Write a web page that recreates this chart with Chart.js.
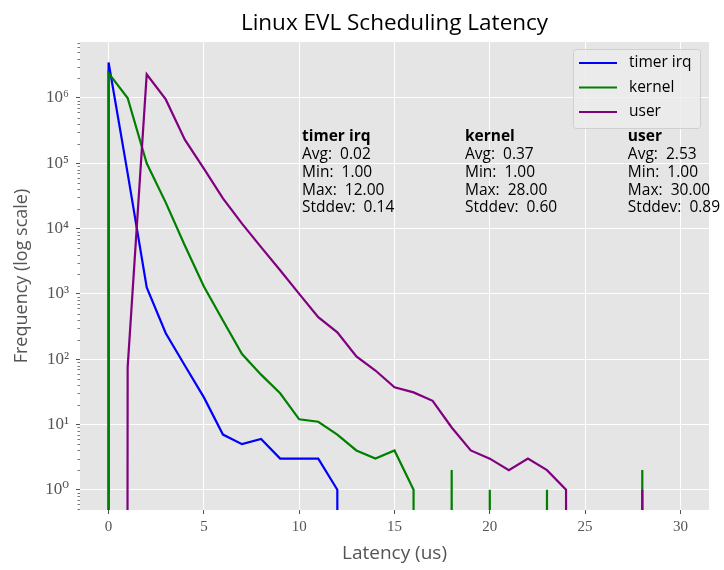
<!DOCTYPE html>
<html>
<head>
<meta charset="utf-8">
<script src="https://cdn.jsdelivr.net/npm/chart.js@4.4.1/dist/chart.umd.min.js"></script>
<style>
  body { margin: 0; background: #fff; }
  #wrap { width: 724px; height: 570px; }
</style>
</head>
<body>
<div id="wrap"><canvas id="latencyChart"></canvas></div>
<script>
// latency bins (us)
var latency = [0,1,2,3,4,5,6,7,8,9,10,11,12,13,14,15,16,17,18,19,20,21,22,23,24,25,26,27,28,29,30];

// counts per bin (0 = empty bin)
var timerIrq = [3.5e6,7.0e4,1260,250,80,26,7,5,6,3,3,3,1,0,0,0,0,0,0,0,0,0,0,0,0,0,0,0,0,0,0];
var kernel   = [2.4e6,1.0e6,1.0e5,2.5e4,5.5e3,1300,390,120,58,30,12,11,7,4,3,4,1,0,2,0,1,0,0,1,0,0,0,0,2,0,0];
var user     = [0,75,2.3e6,9.5e5,2.3e5,8.3e4,2.9e4,1.19e4,5200,2300,1000,440,258,110,67,37,31,23,9,4,3,2,3,2,1,0,0,0,1,0,0];

var seriesNames  = ['timer irq', 'kernel', 'user'];
var seriesColors = ['#0000ff', '#008000', '#800080'];

// summary stats shown in the plot
var statAvg    = [0.02, 0.37, 2.53];
var statMin    = [1.00, 1.00, 1.00];
var statMax    = [12.00, 28.00, 30.00];
var statStddev = [0.14, 0.60, 0.89];

var yTicks = [1e0, 1e1, 1e2, 1e3, 1e4, 1e5, 1e6];
var xTicks = [0, 5, 10, 15, 20, 25, 30];

var chartTitle = 'Linux EVL Scheduling Latency';

var SANS = '"Open Sans", "DejaVu Sans", sans-serif';
var SERIF = '"Liberation Serif", "DejaVu Serif", serif';
var sup = {'0':'\u2070','1':'\u00b9','2':'\u00b2','3':'\u00b3','4':'\u2074','5':'\u2075','6':'\u2076','7':'\u2077'};

// log axis can't show 0, push it far below the axis like matplotlib does
function toPoints(counts) {
  var pts = [{x: latency[0], y: 1e-300}];
  counts.forEach(function(c, i) {
    pts.push({x: latency[i], y: c > 0 ? c : 1e-300});
  });
  return pts;
}

var allSeries = [timerIrq, kernel, user];
var datasets = allSeries.map(function(s, i) {
  return {
    label: seriesNames[i],
    data: toPoints(s),
    borderColor: seriesColors[i],
    backgroundColor: seriesColors[i],
    borderWidth: 2.2,
    pointRadius: 0,
    tension: 0,
    order: allSeries.length - i   // later series on top
  };
});

// grey panel behind the plot
var panel = {
  id: 'panel',
  beforeDraw: function(chart) {
    var a = chart.chartArea, c = chart.ctx;
    c.save();
    c.fillStyle = '#e5e5e5';
    c.fillRect(a.left, a.top, a.right - a.left, a.bottom - a.top);
    c.restore();
  }
};

// title over the axes, minor log ticks, stats text and legend box
var extras = {
  id: 'extras',
  afterDraw: function(chart) {
    var ctx = chart.ctx, area = chart.chartArea, ys = chart.scales.y;
    ctx.save();

    ctx.fillStyle = '#000';
    ctx.font = '22.5px ' + SANS;
    ctx.textAlign = 'center';
    ctx.textBaseline = 'alphabetic';
    ctx.fillText(chartTitle, (area.left + area.right) / 2, 30);

    ctx.strokeStyle = '#555';
    ctx.lineWidth = 0.8;
    for (var d = -1; d <= 6; d++) {
      for (var k = 2; k <= 9; k++) {
        var v = k * Math.pow(10, d);
        if (v < ys.min || v > ys.max) continue;
        var py = Math.round(ys.getPixelForValue(v)) + 0.5;
        ctx.beginPath();
        ctx.moveTo(area.left - 2.5, py);
        ctx.lineTo(area.left, py);
        ctx.stroke();
      }
    }

    // stats blocks
    var fracs = [0.353, 0.612, 0.871];
    ctx.fillStyle = '#000';
    ctx.textBaseline = 'middle';
    ctx.textAlign = 'left';
    seriesNames.forEach(function(name, i) {
      var tx = area.left + fracs[i] * (area.right - area.left);
      var ty = 137;
      var lines = [
        'Avg:  ' + statAvg[i].toFixed(2),
        'Min:  ' + statMin[i].toFixed(2),
        'Max:  ' + statMax[i].toFixed(2),
        'Stddev:  ' + statStddev[i].toFixed(2)
      ];
      ctx.font = 'bold 15.5px ' + SANS;
      ctx.fillText(name, tx, ty);
      ctx.font = '15.5px ' + SANS;
      lines.forEach(function(l, j) { ctx.fillText(l, tx, ty + 17.7 * (j + 1)); });
    });

    // legend
    var bx = 573, by = 49, bw = 127, bh = 79;
    ctx.fillStyle = 'rgba(236,236,236,0.8)';
    ctx.strokeStyle = 'rgba(204,204,204,0.9)';
    ctx.lineWidth = 1;
    ctx.beginPath();
    ctx.roundRect(bx + 0.5, by + 0.5, bw, bh, 3);
    ctx.fill();
    ctx.stroke();
    ctx.font = '15.5px ' + SANS;
    ctx.textBaseline = 'middle';
    seriesNames.forEach(function(name, i) {
      var ry = 63 + i * 24.5;
      ctx.strokeStyle = seriesColors[i];
      ctx.lineWidth = 2.2;
      ctx.beginPath();
      ctx.moveTo(579, ry);
      ctx.lineTo(617, ry);
      ctx.stroke();
      ctx.fillStyle = '#000';
      ctx.fillText(name, 629, ry);
    });
    ctx.restore();
  }
};

var ctx = document.getElementById('latencyChart');
var myChart = new Chart(ctx, {
  type: 'line',
  data: { datasets: datasets },
  options: {
    responsive: true,
    maintainAspectRatio: false,
    animation: false,
    layout: { padding: { left: 0, right: 15, top: 42, bottom: 0 } },
    plugins: {
      legend: { display: false },
      tooltip: { enabled: false },
      title: { display: false }
    },
    scales: {
      x: {
        type: 'linear',
        min: -1.5,
        max: 31.5,
        afterBuildTicks: function(s) { s.ticks = xTicks.map(function(v) { return {value: v}; }); },
        afterFit: function(s) { s.height = 60; },
        grid: { color: '#fff', lineWidth: 1, tickColor: '#555', tickLength: 4 },
        border: { display: false },
        ticks: { color: '#555', font: { family: SERIF, size: 15 }, padding: 4, maxRotation: 0 },
        title: { display: true, text: 'Latency (us)', color: '#555', font: { family: SANS, size: 19 }, padding: { top: 0, bottom: 5 } }
      },
      y: {
        type: 'logarithmic',
        min: 0.49,
        max: 7.2e6,
        afterBuildTicks: function(s) { s.ticks = yTicks.map(function(v) { return {value: v}; }); },
        afterFit: function(s) { s.width = 80; },
        grid: { color: '#fff', lineWidth: 1, tickColor: '#555', tickLength: 4 },
        border: { display: false },
        ticks: {
          color: '#555',
          font: { family: SERIF, size: 17 },
          padding: 7,
          callback: function(v) { return '10' + sup[String(Math.round(Math.log10(v)))]; }
        },
        title: { display: true, text: 'Frequency (log scale)', color: '#555', font: { family: SANS, size: 18 }, padding: { top: 11, bottom: 0 } }
      }
    }
  },
  plugins: [panel, extras]
});
</script>
</body>
</html>
